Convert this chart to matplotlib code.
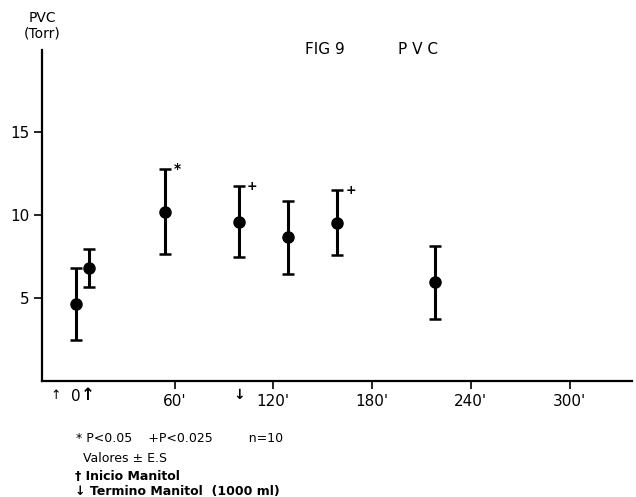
import matplotlib.pyplot as plt

# Data (minutes, PVC in Torr, +/- SE)
minutes = [0, 8, 54, 99, 129, 159, 218]
pvc = [4.65, 6.8, 10.2, 9.6, 8.65, 9.55, 5.95]
se = [2.15, 1.15, 2.55, 2.15, 2.2, 1.95, 2.2]
marks = ['', '', '*', '+', '', '+', '']

xticks = [60, 120, 180, 240, 300]
xticklabels = ["60'", "120'", "180'", "240'", "300'"]
yticks = [5, 10, 15]

fig = plt.figure(figsize=(6.36, 4.97), dpi=100)
ax = fig.add_axes([0.066, 0.2334, 0.928, 0.666])

ax.errorbar(minutes, pvc, yerr=se, fmt='o', color='black', ms=8,
            elinewidth=2.2, capsize=4.5, capthick=1.8)

# significance marks beside the upper caps
for x, y, e, m in zip(minutes, pvc, se, marks):
    if m:
        ax.text(x + 8, y + e, m, fontsize=10 if m == '*' else 9,
                fontweight='bold', ha='center', va='center')

ax.set_xlim(-20.5, 338)
ax.set_ylim(0, 19.95)
ax.set_xticks(xticks)
ax.set_xticklabels(xticklabels, fontsize=11)
ax.set_yticks(yticks)
ax.set_yticklabels([str(v) for v in yticks], fontsize=11)
ax.tick_params(direction='out', length=6, width=1.2, pad=3)
for s in ['top', 'right']:
    ax.spines[s].set_visible(False)
for s in ['left', 'bottom']:
    ax.spines[s].set_linewidth(1.6)

# start / end of mannitol markers and the zero label
ax.text(0, -0.95, "0", fontsize=11, ha='center', va='center')
ax.text(-12, -0.85, "\u2191", fontsize=9, ha='center', va='center')
ax.text(7, -0.85, "\u2191", fontsize=12, fontweight='bold', ha='center', va='center')
ax.text(99, -0.85, "\u2193", fontsize=10, fontweight='bold', ha='center', va='center')

fig.text(0.066, 0.948, "PVC\n(Torr)", fontsize=10, ha='center', va='center',
         linespacing=1.1)
fig.text(0.48, 0.9, "FIG 9", fontsize=11, ha='left', va='center')
fig.text(0.625, 0.9, "P V C", fontsize=11, ha='left', va='center')

fig.text(0.12, 0.118, "* P<0.05    +P<0.025         n=10", fontsize=9, va='center')
fig.text(0.13, 0.078, "Valores \u00b1 E.S", fontsize=9, va='center')
fig.text(0.118, 0.042, "\u2020 Inicio Manitol", fontsize=9, fontweight='bold', va='center')
fig.text(0.118, 0.012, "\u2193 Termino Manitol  (1000 ml)", fontsize=9,
         fontweight='bold', va='center')

fig.savefig('out.png', dpi=100)
